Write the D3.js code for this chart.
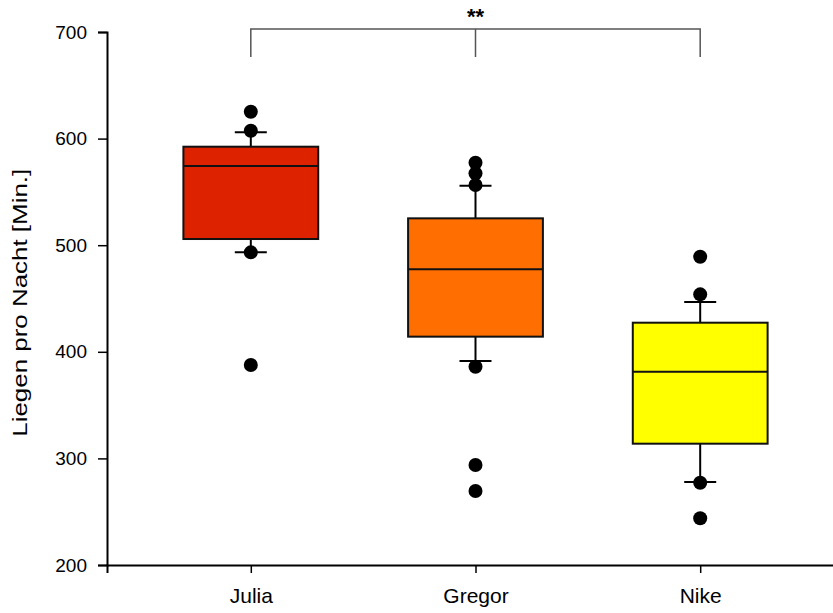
<!DOCTYPE html>
<html lang="de">
<head>
<meta charset="UTF-8">
<title>Liegen pro Nacht</title>
<script src="https://cdn.jsdelivr.net/npm/d3@7"></script>
<style>
  body { margin: 0; background: #fff; }
  svg { display: block; font-family: "Liberation Sans", Arial, sans-serif; }
</style>
</head>
<body>
<svg width="833" height="613"></svg>
<script>
// Daten
var names = ['Julia', 'Gregor', 'Nike'];
var colors = ['#dd2200', '#ff6e00', '#ffff00'];
var q1 = [505.8, 414.2, 313.8];
var median = [574.3, 477.4, 381.4];
var q3 = [592.4, 525.2, 427.3];
var whiskLo = [493.3, 391.4, 277.9];
var whiskHi = [605.9, 555.8, 446.7];
var outliers = [
  [625.2, 607.4, 493.3, 387.6],
  [577.4, 567.4, 556.5, 386.0, 293.8, 269.4],
  [489.2, 453.9, 277.2, 243.8]
];
var yTicks = [200, 300, 400, 500, 600, 700];
var sig = { from: 'Julia', to: 'Nike', mid: 'Gregor', label: '**' };

var svg = d3.select('svg');
var margin = { left: 107, top: 32, bottom: 48 };
var H = +svg.attr('height');

var x = d3.scalePoint().domain(names).range([margin.left, 844]).padding(0.64);
var y = d3.scaleLinear().domain([200, 700]).range([H - margin.bottom, margin.top]);
var boxW = x.step() * 0.6;
var capW = 32;

// Achsen
var yAxis = svg.append('g')
  .attr('transform', 'translate(' + margin.left + ',0)')
  .call(d3.axisLeft(y).tickValues(yTicks).tickSizeOuter(0).tickSize(9).tickPadding(11));
yAxis.selectAll('text').style('font-size', '19px').attr('fill', '#000');
yAxis.select('.domain').attr('stroke-width', 2);
yAxis.selectAll('.tick line').attr('stroke-width', 1.5);

var xAxis = svg.append('g')
  .attr('transform', 'translate(0,' + y(200) + ')')
  .call(d3.axisBottom(x).tickSizeOuter(0).tickSize(8).tickPadding(15));
xAxis.selectAll('text').style('font-size', '21px').attr('fill', '#000');
xAxis.select('.domain').attr('stroke-width', 2);
xAxis.selectAll('.tick line').attr('stroke-width', 1.5);

svg.append('text')
  .attr('transform', 'translate(27,' + y(446) + ') rotate(-90)')
  .attr('text-anchor', 'middle')
  .attr('textLength', 268)
  .attr('lengthAdjust', 'spacingAndGlyphs')
  .style('font-size', '20px')
  .text('Liegen pro Nacht [Min.]');

// Boxplots
var gs = svg.selectAll('.box').data(names).enter().append('g').attr('class', 'box');

gs.append('line')
  .attr('x1', function(d) { return x(d); })
  .attr('x2', function(d) { return x(d); })
  .attr('y1', function(d, i) { return y(whiskHi[i]); })
  .attr('y2', function(d, i) { return y(whiskLo[i]); })
  .attr('stroke', '#000').attr('stroke-width', 2);

gs.each(function(d, i) {
  var g = d3.select(this);
  [whiskHi[i], whiskLo[i]].forEach(function(v) {
    g.append('line')
      .attr('x1', x(d) - capW / 2).attr('x2', x(d) + capW / 2)
      .attr('y1', y(v)).attr('y2', y(v))
      .attr('stroke', '#000').attr('stroke-width', 2);
  });
});

gs.append('rect')
  .attr('x', function(d) { return x(d) - boxW / 2; })
  .attr('y', function(d, i) { return y(q3[i]); })
  .attr('width', boxW)
  .attr('height', function(d, i) { return y(q1[i]) - y(q3[i]); })
  .attr('fill', function(d, i) { return colors[i]; })
  .attr('stroke', '#111').attr('stroke-width', 2);

gs.append('line')
  .attr('x1', function(d) { return x(d) - boxW / 2; })
  .attr('x2', function(d) { return x(d) + boxW / 2; })
  .attr('y1', function(d, i) { return y(median[i]); })
  .attr('y2', function(d, i) { return y(median[i]); })
  .attr('stroke', '#111').attr('stroke-width', 2);

gs.each(function(d, i) {
  d3.select(this).selectAll('circle').data(outliers[i]).enter().append('circle')
    .attr('cx', x(d))
    .attr('cy', function(v) { return y(v); })
    .attr('r', 7)
    .attr('fill', '#000');
});

// Signifikanz-Klammer
var brTop = 29, brEnd = 57;
svg.append('path')
  .attr('d', 'M' + x(sig.from) + ',' + brEnd + 'V' + brTop + 'H' + x(sig.to) + 'V' + brEnd +
             'M' + x(sig.mid) + ',' + brTop + 'V' + brEnd)
  .attr('fill', 'none').attr('stroke', '#555').attr('stroke-width', 1.5);

svg.append('text')
  .attr('x', x(sig.mid)).attr('y', 24)
  .attr('text-anchor', 'middle')
  .style('font-size', '22px').style('font-weight', 'bold')
  .text(sig.label);
</script>
</body>
</html>
